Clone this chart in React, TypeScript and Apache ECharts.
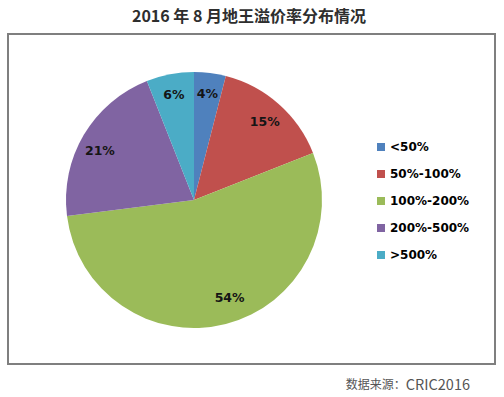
import React, { useEffect, useRef } from "react";
import * as echarts from "echarts";

const categories = ["<50%", "50%-100%", "100%-200%", "200%-500%", ">500%"];
const values = [4, 15, 54, 21, 6];
const colors = ["#4F81BD", "#C0504D", "#9BBB59", "#8064A2", "#4BACC6"];
const labelOffsets = [[0, 0], [0, 2], [9, -6], [-2, 5], [0, 0]];
const titleText = "2016 年 8 月地王溢价率分布情况";
const sourcePrefix = "数据来源：";
const sourceName = "CRIC2016";

export default function App() {
  const ref = useRef<HTMLDivElement>(null);
  useEffect(() => {
    if (!ref.current) return;
    const chart = echarts.init(ref.current, null, { renderer: "svg" });
    const data = categories.map((name, i) => ({
      name,
      value: values[i],
      itemStyle: { color: colors[i] },
    }));
    chart.setOption({
      animation: false,
      backgroundColor: "#ffffff",
      legend: {
        orient: "vertical",
        left: 372,
        top: 135,
        itemWidth: 8,
        itemHeight: 8,
        itemGap: 13,
        icon: "rect",
        data: categories,
        textStyle: {
          fontFamily: "DejaVu Sans",
          fontWeight: "bold",
          fontSize: 12,
          lineHeight: 14,
          color: "#000",
        },
      },
      graphic: [
        {
          type: "rect",
          shape: { x: 8, y: 34, width: 487, height: 330 },
          style: { fill: "none", stroke: "#7f7f7f", lineWidth: 2 },
          z: -1,
        },
        {
          type: "text",
          x: 249,
          y: 15,
          style: {
            text: titleText,
            textAlign: "center",
            textVerticalAlign: "middle",
            font: "bold 16px 'Noto Sans CJK SC'",
            fill: "#2e2e2e",
          },
        },
        {
          type: "text",
          x: 470,
          y: 383,
          style: {
            text: "{a|" + sourcePrefix + "}{b|" + sourceName + "}",
            textAlign: "right",
            textVerticalAlign: "middle",
            rich: {
              a: { fontFamily: "Noto Sans CJK SC", fontSize: 12, fill: "#555555", color: "#555555" },
              b: { fontFamily: "Noto Sans CJK SC", fontSize: 14.5, fill: "#555555", color: "#555555" },
            },
          },
        },
      ],
      series: [
        {
          type: "pie",
          center: [194, 200],
          radius: [0, 128],
          startAngle: 90,
          clockwise: true,
          silent: true,
          label: { show: false },
          labelLine: { show: false },
          itemStyle: { borderWidth: 0 },
          data,
        },
        {
          type: "pie",
          center: [194, 200],
          radius: [80, 128],
          startAngle: 90,
          clockwise: true,
          silent: true,
          legendHoverLink: false,
          itemStyle: { color: "rgba(0,0,0,0)", borderWidth: 0 },
          label: {
            show: true,
            position: "inside",
            formatter: "{c}%",
            fontFamily: "DejaVu Sans",
            fontWeight: "bold",
            fontSize: 12.5,
            color: "#151515",
          },
          labelLine: { show: false },
          data: categories.map((name, i) => ({
            name: name + " ",
            value: values[i],
            label: { offset: labelOffsets[i] },
          })),
        },
      ],
    });
    return () => chart.dispose();
  }, []);
  return (
    <div
      ref={ref}
      style={{ position: "fixed", left: 0, top: 0, width: 504, height: 397 }}
    />
  );
}
